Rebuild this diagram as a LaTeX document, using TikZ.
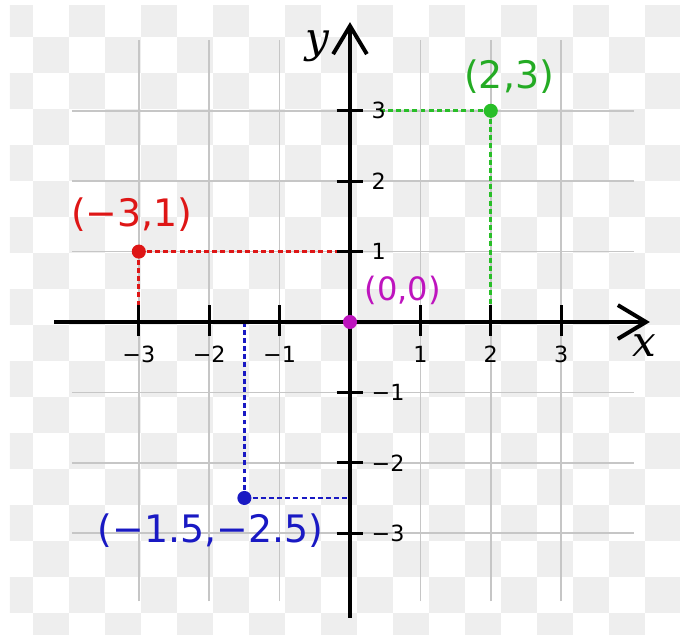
\documentclass[tikz,border=0pt]{standalone}
\usepackage{fontspec}
\setmainfont{DejaVu Sans}
\newfontfamily\axisfont{DejaVu Serif}
\usetikzlibrary{arrows.meta}
\definecolor{checkgray}{RGB}{238,238,238}
\definecolor{gridgray}{RGB}{198,198,198}
\definecolor{ptred}{RGB}{222,22,22}
\definecolor{ptgreen}{RGB}{40,190,40}
\definecolor{ptblue}{RGB}{25,25,195}
\definecolor{ptmagenta}{RGB}{190,20,190}

\begin{document}
\begin{tikzpicture}[
 axisline/.style={line width=1.6pt,-{Straight Barb[length=4mm,width=4.8mm]}},
 tickline/.style={line width=1.2pt},
 guide/.style={line width=1.1pt,dash pattern=on 2pt off 1.3pt},
 dot/.style={circle,fill=#1,inner sep=0pt,minimum size=0.2cm},
 ticklabel/.style={font=\fontsize{9}{10}\selectfont,inner sep=0pt},
 ptlabel/.style={font=\fontsize{15.3}{17}\selectfont,inner sep=0pt},
 axislabel/.style={font=\axisfont\itshape\fontsize{17}{19}\selectfont,inner sep=0pt}]
\useasboundingbox (-4.972,-4.446) rectangle (4.688,4.574);
\begin{scope}
\clip (-4.83,-4.446) rectangle (4.688,4.489);
\foreach \i in {0,...,19}{\foreach \j in {0,...,17}{\pgfmathtruncatemacro{\chk}{mod(\i+\j,2)}\ifnum\chk=0 \fill[checkgray] ({-5.014+0.5114*\i},{4.560-0.5114*\j}) rectangle ++(0.5114,-0.5114);\fi}}
\end{scope}
\foreach \k in {-3,...,3}{\draw[gridgray,line width=0.6pt] (\k,-3.97)--(\k,4);\draw[gridgray,line width=0.6pt] (-3.95,\k)--(4.03,\k);}

\coordinate (pr) at (-3,1);
\coordinate (pg) at (2,3);
\coordinate (pb) at (-1.5,-2.5);
\coordinate (po) at (0,0);
\coordinate (prx) at (-3,0.24);
\coordinate (pry) at (-0.19,1);
\coordinate (pgx) at (2,0.24);
\coordinate (pgy) at (0.42,3);
\coordinate (pbx) at (-1.5,0);
\coordinate (pby) at (0,-2.5);
\draw[guide,ptred] (pr)--(prx) (pr)--(pry);
\draw[guide,ptgreen] (pg)--(pgx) (pg)--(pgy);
\draw[guide,ptblue] (pb)--(pbx) (pb)--(pby);

\coordinate (xs) at (-4.2,0);
\coordinate (xe) at (4.26,0);
\coordinate (ys) at (0,-4.2);
\coordinate (ye) at (0,4.26);
\draw[axisline] (xs)--(xe);
\draw[axisline] (ys)--(ye);
\foreach \v/\t [count=\n] in {-3/−3,-2/−2,-1/−1,1/1,2/2,3/3}{
\draw[tickline] (\v,-0.2)--(\v,0.24);
\node[ticklabel,anchor=base] (xt\n) at (\v,-0.57) {\t};
\draw[tickline] (-0.19,\v)--(0.19,\v);
\node[ticklabel,anchor=west] (yt\n) at (0.3,\v) {\t};}
\node[axislabel] (xlab) at (4.18,-0.33) {x};
\node[axislabel] (ylab) at (-0.47,3.91) {y};

\node[dot=ptred] (red) at (pr) {};
\node[dot=ptgreen] (green) at (pg) {};
\node[dot=ptblue] (blue) at (pb) {};
\node[dot=ptmagenta] (origin) at (po) {};
\node[ptlabel,ptred] (redlab) at (-3.10,1.52) {(−3,1)};
\node[ptlabel,ptgreen!90!black] (greenlab) at (2.26,3.49) {(2,3)};
\node[ptlabel,ptblue] (bluelab) at (-1.98,-2.97) {(−1.5,−2.5)};
\node[ptlabel,ptmagenta,font=\fontsize{13}{15}\selectfont] (originlab) at (0.75,0.45) {(0,0)};
\end{tikzpicture}
\end{document}
